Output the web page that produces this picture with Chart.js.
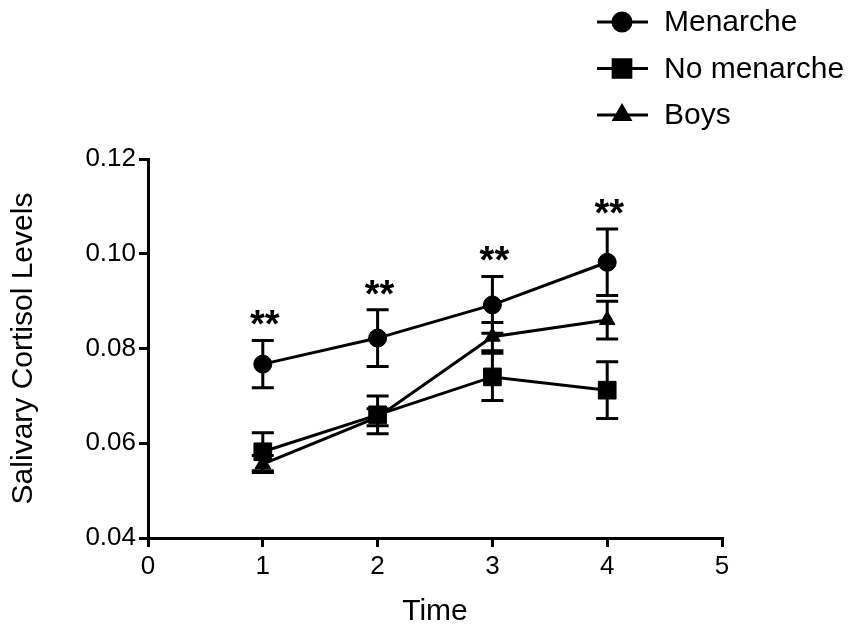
<!DOCTYPE html>
<html>
<head>
<meta charset="utf-8">
<script src="https://cdn.jsdelivr.net/npm/chart.js@4/dist/chart.umd.min.js"></script>
<style>
  html, body { margin: 0; padding: 0; background: #fff; }
  #wrap { width: 861px; height: 635px; }
</style>
</head>
<body>
<div id="wrap"><canvas id="cortisolChart" width="861" height="635"></canvas></div>
<script>
// values
const timePoints = [1, 2, 3, 4];
const menarche = [0.0767, 0.0822, 0.0892, 0.0982];
const menarcheErr = [0.005, 0.006, 0.006, 0.007];
const noMenarche = [0.0582, 0.0660, 0.0740, 0.0712];
const noMenarcheErr = [0.004, 0.004, 0.005, 0.006];
const boys = [0.0556, 0.0655, 0.0825, 0.0860];
const boysErr = [0.0018, 0.0018, 0.003, 0.004];
const signif = ['**', '**', '**', '**'];
const yTicks = [0.04, 0.06, 0.08, 0.10, 0.12];
const xTicks = [0, 1, 2, 3, 4, 5];

const FONT = 'Liberation Sans, Arial, Helvetica, sans-serif';

function toPoints(ys) {
    return timePoints.map(function (t, i) { return { x: t, y: ys[i] }; });
}

const series = [
    { label: 'Menarche', values: menarche, errors: menarcheErr, style: 'circle', radius: 9 },
    { label: 'No menarche', values: noMenarche, errors: noMenarcheErr, style: 'rect', radius: 12.5 },
    { label: 'Boys', values: boys, errors: boysErr, style: 'triangle', radius: 9 }
];

// error bars + significance stars
const errorBars = {
    id: 'errorBars',
    beforeDatasetsDraw: function (chart) {
        const ctx = chart.ctx;
        const xs = chart.scales.x, ys = chart.scales.y;
        ctx.save();
        ctx.strokeStyle = '#000';
        ctx.lineWidth = 3;
        series.forEach(function (s) {
            timePoints.forEach(function (t, i) {
                const px = xs.getPixelForValue(t);
                const top = ys.getPixelForValue(s.values[i] + s.errors[i]);
                const bot = ys.getPixelForValue(s.values[i] - s.errors[i]);
                ctx.beginPath();
                ctx.moveTo(px, top); ctx.lineTo(px, bot);
                ctx.moveTo(px - 11, top); ctx.lineTo(px + 11, top);
                ctx.moveTo(px - 11, bot); ctx.lineTo(px + 11, bot);
                ctx.stroke();
            });
        });
        ctx.restore();
    },
    afterDatasetsDraw: function (chart) {
        const ctx = chart.ctx;
        const xs = chart.scales.x, ys = chart.scales.y;
        ctx.save();
        ctx.fillStyle = '#000';
        ctx.font = 'bold 38px ' + FONT;
        ctx.textAlign = 'center';
        ctx.textBaseline = 'alphabetic';
        timePoints.forEach(function (t, i) {
            const px = xs.getPixelForValue(t);
            const top = ys.getPixelForValue(menarche[i] + menarcheErr[i]);
            ctx.fillText(signif[i], px + 2, top - 3);
        });
        ctx.restore();
    }
};

// legend: line with marker, then label
const sideLegend = {
    id: 'sideLegend',
    afterDraw: function (chart) {
        const ctx = chart.ctx;
        ctx.save();
        series.forEach(function (s, i) {
            const y = 22 + i * 46.5;
            ctx.strokeStyle = '#000';
            ctx.lineWidth = 3;
            ctx.beginPath();
            ctx.moveTo(597, y); ctx.lineTo(648, y);
            ctx.stroke();
            Chart.helpers.drawPoint(ctx, {
                pointStyle: s.style, radius: s.radius, borderWidth: 1, rotation: 0
            }, 622, y);
            ctx.fillStyle = '#000';
            ctx.fill();
            ctx.font = '30px ' + FONT;
            ctx.textAlign = 'left';
            ctx.textBaseline = 'middle';
            ctx.fillText(s.label, 664, y + 1);
        });
        ctx.restore();
    }
};

const axisStyle = {
    grid: { display: true, drawOnChartArea: false, drawTicks: true, tickLength: 9, color: '#000', lineWidth: 3 },
    border: { display: true, color: '#000', width: 3 }
};

new Chart(document.getElementById('cortisolChart'), {
    type: 'scatter',
    data: {
        datasets: series.map(function (s) {
            return {
                label: s.label,
                data: toPoints(s.values),
                showLine: true,
                borderColor: '#000',
                backgroundColor: '#000',
                borderWidth: 3,
                pointStyle: s.style,
                pointRadius: s.radius,
                pointBorderWidth: 1,
                pointBackgroundColor: '#000',
                pointBorderColor: '#000'
            };
        })
    },
    options: {
        responsive: false,
        animation: false,
        events: [],
        layout: { padding: { left: 0, right: 139, top: 159, bottom: 0 } },
        plugins: {
            legend: { display: false },
            tooltip: { enabled: false }
        },
        scales: {
            x: Object.assign({
                type: 'linear',
                min: 0,
                max: 5,
                afterBuildTicks: function (scale) { scale.ticks = xTicks.map(function (v) { return { value: v }; }); },
                afterFit: function (scale) { scale.height = 97; },
                ticks: { color: '#000', font: { family: FONT, size: 26 }, padding: 4 },
                title: { display: true, text: 'Time', color: '#000', font: { family: FONT, size: 30 }, padding: { top: 0, bottom: 5 } }
            }, axisStyle),
            y: Object.assign({
                type: 'linear',
                min: 0.04,
                max: 0.12,
                afterBuildTicks: function (scale) { scale.ticks = yTicks.map(function (v) { return { value: v }; }); },
                afterFit: function (scale) { scale.width = 148; },
                ticks: {
                    color: '#000', font: { family: FONT, size: 26 }, padding: 3,
                    callback: function (v) { return Number(v).toFixed(2); }
                },
                title: { display: true, text: 'Salivary Cortisol Levels', color: '#000', font: { family: FONT, size: 30 }, padding: { top: 6, bottom: 0 } }
            }, axisStyle)
        }
    },
    plugins: [errorBars, sideLegend]
});
</script>
</body>
</html>
